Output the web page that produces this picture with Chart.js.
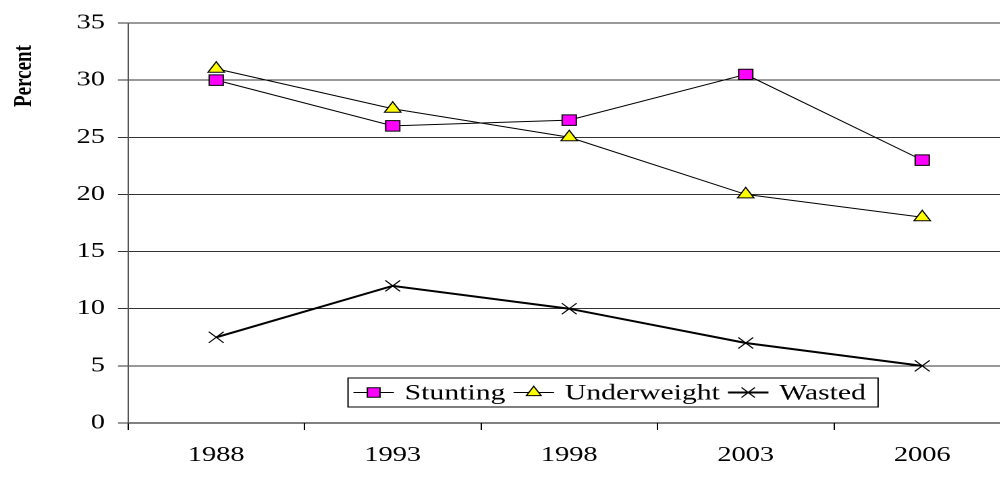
<!DOCTYPE html>
<html>
<head>
<meta charset="utf-8">
<script src="https://cdn.jsdelivr.net/npm/chart.js@4/dist/chart.umd.min.js"></script>
<style>
  html, body { margin: 0; padding: 0; background: #fff; overflow: hidden; }
  /* the chart is laid out narrow and widened horizontally */
  #wrap { width: 760px; height: 481px; transform: scaleX(1.35); transform-origin: 0 0; }
</style>
</head>
<body>
<div id="wrap"><canvas id="c"></canvas></div>
<script>
// Survey years and percentages of children
const years = ['1988', '1993', '1998', '2003', '2006'];
const stunting = [30, 26, 26.5, 30.5, 23];
const underweight = [31, 27.5, 25, 20, 18];
const wasted = [7.5, 12, 10, 7, 5];
const seriesNames = ['Stunting', 'Underweight', 'Wasted'];
const yMin = 0, yMax = 35, yStep = 5;
const yTitle = 'Percent';

const serif = "'Liberation Serif', 'Times New Roman', serif";

// Rotated y-axis title
const axisTitle = {
  id: 'axisTitle',
  afterDraw(chart) {
    const ctx = chart.ctx;
    ctx.save();
    ctx.translate(18, 76);
    ctx.rotate(-Math.PI / 2);
    ctx.font = 'bold 19px ' + serif;
    ctx.fillStyle = '#000';
    ctx.textAlign = 'center';
    ctx.textBaseline = 'middle';
    ctx.fillText(yTitle, 0, 0);
    ctx.restore();
  }
};

// Boxed legend sitting inside the plot area
const boxLegend = {
  id: 'boxLegend',
  afterDatasetsDraw(chart) {
    const ctx = chart.ctx;
    const area = chart.chartArea;
    const left = area.left + 163;
    const top = area.bottom - 45;
    const h = 29;
    const cy = top + h / 2;
    ctx.save();
    ctx.font = '22px ' + serif;
    let x = left + 4;
    const items = [];
    chart.data.datasets.forEach(ds => {
      const tw = ctx.measureText(ds.label).width;
      items.push({ ds, x, tw });
      x += 30 + 8 + tw + 6;
    });
    const right = x + 3;
    ctx.fillStyle = '#fff';
    ctx.fillRect(left, top, right - left, h);
    ctx.strokeStyle = '#000';
    ctx.lineWidth = 1;
    ctx.strokeRect(left, top, right - left, h);
    items.forEach(it => {
      const ds = it.ds;
      ctx.strokeStyle = ds.borderColor;
      ctx.lineWidth = ds.borderWidth;
      ctx.beginPath();
      ctx.moveTo(it.x, cy);
      ctx.lineTo(it.x + 30, cy);
      ctx.stroke();
      ctx.fillStyle = ds.pointBackgroundColor;
      ctx.strokeStyle = ds.pointBorderColor;
      ctx.lineWidth = 1;
      Chart.helpers.drawPoint(ctx, {
        pointStyle: ds.pointStyle,
        radius: ds.pointRadius * 0.9,
        rotation: 0,
        borderWidth: 1
      }, it.x + 15, cy);
      ctx.fillStyle = '#000';
      ctx.textAlign = 'left';
      ctx.textBaseline = 'middle';
      ctx.fillText(ds.label, it.x + 38, cy + 1);
    });
    ctx.restore();
  }
};

new Chart(document.getElementById('c'), {
  type: 'line',
  data: {
    labels: years,
    datasets: [
      {
        label: seriesNames[0], data: stunting,
        borderColor: '#000', borderWidth: 1,
        pointStyle: 'rect', pointRadius: 7.4,
        pointBackgroundColor: '#FF00FF', pointBorderColor: '#000', pointBorderWidth: 1
      },
      {
        label: seriesNames[1], data: underweight,
        borderColor: '#000', borderWidth: 1,
        pointStyle: 'triangle', pointRadius: 7,
        pointBackgroundColor: '#FFFF00', pointBorderColor: '#000', pointBorderWidth: 1
      },
      {
        label: seriesNames[2], data: wasted,
        borderColor: '#000', borderWidth: 2,
        pointStyle: 'crossRot', pointRadius: 7.8,
        pointBackgroundColor: '#000', pointBorderColor: '#000', pointBorderWidth: 1
      }
    ]
  },
  options: {
    responsive: true,
    maintainAspectRatio: false,
    devicePixelRatio: 2,
    animation: false,
    clip: false,
    elements: { line: { tension: 0 } },
    layout: { padding: { left: 0, right: 11.5, top: 23, bottom: 0 } },
    plugins: { legend: { display: false }, tooltip: { enabled: false } },
    scales: {
      x: {
        offset: true,
        grid: { display: true, offset: true, drawOnChartArea: false, drawTicks: true, tickLength: 7, color: '#000', lineWidth: 1 },
        border: { display: true, color: '#000', width: 1 },
        ticks: { color: '#000', font: { family: serif, size: 21 }, padding: 13, maxRotation: 0 },
        afterFit(scale) { scale.height = 58; }
      },
      y: {
        min: yMin, max: yMax,
        grid: { color: '#333', lineWidth: 1, tickLength: 7.4, drawTicks: true },
        border: { display: true, color: '#555', width: 1 },
        ticks: { stepSize: yStep, color: '#000', font: { family: serif, size: 21 }, padding: 9.6 },
        afterFit(scale) { scale.width = 94.8; }
      }
    }
  },
  plugins: [axisTitle, boxLegend]
});
</script>
</body>
</html>
